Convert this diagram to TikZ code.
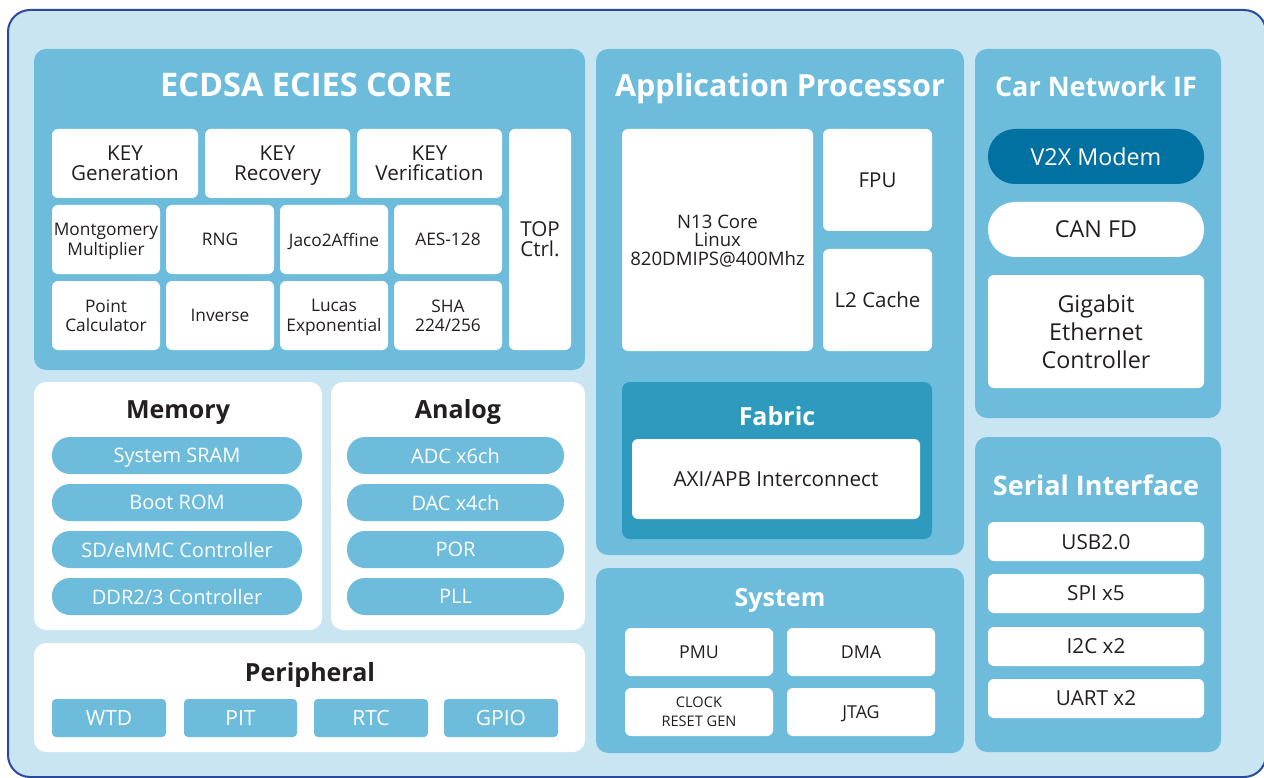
\documentclass[tikz,border=0pt]{standalone}
\usepackage{fontspec}
\setmainfont{Open Sans}
\definecolor{outerbg}{HTML}{C9E5F2}
\definecolor{outerln}{HTML}{2B4A9B}
\definecolor{panel}{HTML}{6DBCDC}
\definecolor{fabric}{HTML}{2E9ABD}
\definecolor{vmodem}{HTML}{0071A0}
\definecolor{ink}{HTML}{231F20}
\newcommand{\fs}[2]{\fontsize{#1}{#2}\selectfont\lineskiplimit=-100pt\lineskip=0pt}
\newcommand{\blk}[7]{%
  \node[#1, minimum width={(#5-#3)*1pt}, minimum height={(#6-#4)*1pt}] (#2) at ({(#3+#5)/2},{(#4+#6)/2}) {#7};}
\tikzset{
  base/.style={inner sep=0pt, outer sep=0pt, align=center, text=ink, text depth=0pt},
  framebox/.style={base, draw=outerln, line width=2pt, fill=outerbg, rounded corners=22pt},
  bluepanel/.style={base, fill=panel, rounded corners=12pt},
  whitepanel/.style={base, fill=white, rounded corners=12pt},
  fabricbox/.style={base, fill=fabric, rounded corners=8pt},
  wbox/.style={base, fill=white, rounded corners=6pt},
  bpill/.style={base, fill=panel, rounded corners=18pt, text=white, font=\fs{20}{22}},
  bbox/.style={base, fill=panel, rounded corners=4pt, text=white, font=\fs{21}{22}},
  bigtitle/.style={inner sep=0pt, anchor=base, text=white, font=\bfseries\fs{30.5}{36}},
  midtitle/.style={inner sep=0pt, anchor=base, text=white, font=\bfseries\fs{25}{30}},
  darktitle/.style={inner sep=0pt, anchor=base, text=ink, font=\bfseries\fs{25}{30}},
  keytxt/.style={font=\fs{20.6}{20}},
  smalltxt/.style={font=\fs{17.3}{19.5}},
  coretxt/.style={font=\fs{18.6}{18.5}},
  bigtxt/.style={font=\fs{20.5}{24}},
  cartxt/.style={font=\fs{23.3}{28}},
  sertxt/.style={font=\fs{20.7}{22}},
  systxt/.style={font=\fs{17.8}{19}},
  clktxt/.style={font=\fs{14.6}{19}},
}
\begin{document}
\begin{tikzpicture}[x=1pt,y=-1pt]
\useasboundingbox (0,0) rectangle (1264,778);
\fill[white] (0,0) rectangle (1264,778);
\blk{framebox}{frame}{8}{10}{1266}{777}{}
% ECDSA ECIES CORE
\blk{bluepanel}{ecdsa}{34}{49}{585}{370}{}
\node[bigtitle, font=\bfseries\fs{32.5}{36}] (ecdsaT) at (306,97) {ECDSA ECIES CORE};
\blk{wbox,keytxt}{kgen}{52}{129}{198}{198}{KEY\\Generation}
\blk{wbox,keytxt}{krec}{205}{129}{350}{198}{KEY\\Recovery}
\blk{wbox,keytxt}{kver}{357}{129}{502}{198}{KEY\\Verification}
\blk{wbox,keytxt}{top}{509}{129}{571}{350}{TOP\\Ctrl.}
\blk{wbox,smalltxt}{mont}{52}{205}{160}{274}{Montgomery\\Multiplier}
\blk{wbox,smalltxt}{rng}{166}{205}{274}{274}{RNG}
\blk{wbox,smalltxt}{jaco}{280}{205}{388}{274}{Jaco2Affine}
\blk{wbox,smalltxt}{aes}{394}{205}{502}{274}{AES-128}
\blk{wbox,smalltxt}{point}{52}{281}{160}{350}{Point\\Calculator}
\blk{wbox,smalltxt}{inv}{166}{281}{274}{350}{Inverse}
\blk{wbox,smalltxt}{lucas}{280}{281}{388}{350}{Lucas\\Exponential}
\blk{wbox,smalltxt}{sha}{394}{281}{502}{350}{SHA\\224/256}
% Memory
\blk{whitepanel}{mem}{34}{382}{322}{630}{}
\node[darktitle] (memT) at (178,418) {Memory};
\blk{bpill}{sram}{52}{437}{302}{474}{System SRAM}
\blk{bpill}{brom}{52}{484}{302}{521}{Boot ROM}
\blk{bpill}{sdmmc}{52}{531}{302}{568}{SD/eMMC Controller}
\blk{bpill}{ddr}{52}{578}{302}{615}{DDR2/3 Controller}
% Analog
\blk{whitepanel}{ana}{331}{382}{585}{630}{}
\node[darktitle] (anaT) at (458,418) {Analog};
\blk{bpill}{adc}{347}{437}{564}{474}{ADC x6ch}
\blk{bpill}{dac}{347}{484}{564}{521}{DAC x4ch}
\blk{bpill}{por}{347}{531}{564}{568}{POR}
\blk{bpill}{pll}{347}{578}{564}{615}{PLL}
% Peripheral
\blk{whitepanel}{peri}{34}{643}{585}{752}{}
\node[darktitle] (periT) at (310,681) {Peripheral};
\blk{bbox}{wtd}{52}{699}{166}{737}{WTD}
\blk{bbox}{pit}{184}{699}{297}{737}{PIT}
\blk{bbox}{rtc}{314}{699}{428}{737}{RTC}
\blk{bbox}{gpio}{444}{699}{558}{737}{GPIO}
% Application Processor
\blk{bluepanel}{app}{596}{49}{964}{555}{}
\node[bigtitle] (appT) at (780,97) {Application Processor};
\blk{wbox,coretxt}{core}{622}{129}{813}{351}{N13 Core\\Linux\\820DMIPS@400Mhz}
\blk{wbox,bigtxt}{fpu}{823}{129}{932}{231}{FPU}
\blk{wbox,bigtxt}{l2}{823}{249}{932}{351}{L2 Cache}
\blk{fabricbox}{fab}{622}{382}{932}{539}{}
\node[midtitle] (fabT) at (777,425) {Fabric};
\blk{wbox,sertxt}{axi}{632}{439}{920}{519}{AXI/APB Interconnect}
% System
\blk{bluepanel}{sys}{596}{568}{964}{753}{}
\node[midtitle] (sysT) at (780,606) {System};
\blk{wbox,systxt}{pmu}{625}{628}{773}{676}{PMU}
\blk{wbox,systxt}{dma}{787}{628}{935}{676}{DMA}
\blk{wbox,clktxt}{clk}{625}{688}{773}{736}{CLOCK\\RESET GEN}
\blk{wbox,systxt}{jtag}{787}{688}{935}{736}{JTAG}
% Car Network IF
\blk{bluepanel}{car}{975}{49}{1221}{418}{}
\node[bigtitle, font=\bfseries\fs{27}{36}] (carT) at (1096,97) {Car Network IF};
\blk{base,fill=vmodem,rounded corners=27pt,text=white,cartxt}{v2x}{988}{129}{1204}{184}{V2X Modem}
\blk{base,fill=white,rounded corners=27pt,cartxt}{can}{988}{202}{1204}{257}{CAN FD}
\blk{wbox,cartxt}{gbe}{988}{275}{1204}{388}{Gigabit\\Ethernet\\Controller}
% Serial Interface
\blk{bluepanel}{ser}{975}{437}{1221}{752}{}
\node[bigtitle, font=\bfseries\fs{27}{36}] (serT) at (1096,495) {Serial Interface};
\blk{wbox,sertxt}{usb}{988}{522}{1204}{561}{USB2.0}
\blk{wbox,sertxt}{spi}{988}{574}{1204}{613}{SPI x5}
\blk{wbox,sertxt}{i2c}{988}{627}{1204}{666}{I2C x2}
\blk{wbox,sertxt}{uart}{988}{679}{1204}{718}{UART x2}
\end{tikzpicture}
\end{document}
